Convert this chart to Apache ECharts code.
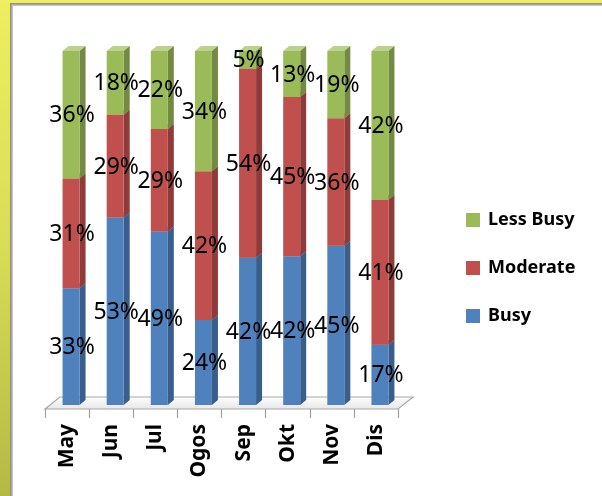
<!DOCTYPE html>
<html>
<head>
<meta charset="utf-8">
<script src="https://cdn.jsdelivr.net/npm/echarts@6/dist/echarts.min.js"></script>
<style>html,body{margin:0;padding:0;background:#fff;}#c{width:602px;height:496px;}</style>
</head>
<body>
<div id="c"></div>
<script>
const categories = ['May', 'Jun', 'Jul', 'Ogos', 'Sep', 'Okt', 'Nov', 'Dis'];
const busy = [33, 53, 49, 24, 42, 42, 45, 17];
const moderate = [31, 29, 29, 42, 54, 45, 36, 41];
const lessBusy = [36, 18, 22, 34, 5, 13, 19, 42];
const seriesNames = ['Busy', 'Moderate', 'Less Busy'];
const legendOrder = ['Less Busy', 'Moderate', 'Busy'];

const frontColors = ['#4F81BD', '#C0504D', '#9BBB59'];
const sideColors = ['#395E8C', '#8E3B39', '#728A41'];
const topColors = ['#7FA3D1', '#D57F7D', '#BBD28C'];

const values = [busy, moderate, lessBusy];
const totals = categories.map((_, i) => busy[i] + moderate[i] + lessBusy[i]);

// 100% stacked: base/top in percent of each category total
function stackedData(k) {
  return categories.map((_, i) => {
    let base = 0;
    for (let j = 0; j < k; j++) base += values[j][i];
    const top = base + values[k][i];
    return [i, base / totals[i] * 100, top / totals[i] * 100, values[k][i]];
  });
}

const FONT = '"Noto Sans", "Open Sans", sans-serif';
const BAR_W = 17, SHIFT_X = 4, SHIFT_Y = -4, DX = 6, DY = -5;

function makeRender(k) {
  return function (params, api) {
    const i = api.value(0), b = api.value(1), t = api.value(2), v = api.value(3);
    const p0 = api.coord([i, b]);
    const p1 = api.coord([i, t]);
    const cx = p0[0] + SHIFT_X;
    const x0 = cx - BAR_W / 2, x1 = cx + BAR_W / 2;
    const yb = p0[1] + SHIFT_Y, yt = p1[1] + SHIFT_Y;
    return {
      type: 'group',
      children: [
        { type: 'polygon', shape: { points: [[x0, yt], [x1, yt], [x1 + DX, yt + DY], [x0 + DX, yt + DY]] },
          style: { fill: topColors[k] } },
        { type: 'polygon', shape: { points: [[x1, yb], [x1 + DX, yb + DY], [x1 + DX, yt + DY], [x1, yt]] },
          style: { fill: sideColors[k] } },
        { type: 'rect', shape: { x: x0, y: yt, width: BAR_W, height: yb - yt },
          style: { fill: frontColors[k] } },
        { type: 'text', z2: 100,
          style: { text: v + '%', x: cx + 1, y: (yt + yb) / 2 + 1, align: 'center', verticalAlign: 'middle',
                   font: '23px ' + FONT, fill: '#000' } }
      ]
    };
  };
}

const barSeries = seriesNames.map((name, k) => ({
  name: name,
  type: 'custom',
  renderItem: makeRender(k),
  itemStyle: { color: frontColors[k] },
  encode: { x: 0, y: [1, 2] },
  data: stackedData(k),
  z: 3
}));

const floorSeries = {
  name: 'floor',
  type: 'custom',
  z: 1,
  silent: true,
  data: [[0, 0]],
  renderItem: function (params, api) {
    const cs = params.coordSys;
    const yb = cs.y + cs.height, xl = cs.x, xr = cs.x + cs.width;
    return {
      type: 'polygon',
      shape: { points: [[xl, yb], [xr, yb], [xr + 15, yb - 12], [xl + 15, yb - 12]] },
      style: {
        fill: new echarts.graphic.LinearGradient(0, 0, 0, 1, [
          { offset: 0, color: '#ffffff' }, { offset: 1, color: '#e6e6e6' }]),
        stroke: '#a8a8a8', lineWidth: 1.2
      }
    };
  }
};

const chart = echarts.init(document.getElementById('c'), null, { renderer: 'canvas' });
chart.setOption({
  animation: false,
  backgroundColor: '#ffffff',
  graphic: {
    elements: [
      { type: 'rect', z: -10, silent: true, shape: { x: 0, y: 0, width: 602, height: 496 },
        style: { fill: new echarts.graphic.LinearGradient(0, 0, 0, 1, [
          { offset: 0, color: '#EEEE5E' }, { offset: 0.5, color: '#D9DC55' }, { offset: 1, color: '#B4B944' }]) } },
      { type: 'rect', z: -9, silent: true, shape: { x: 10, y: 3, width: 600, height: 500 },
        style: { fill: '#8f8f8f' } },
      { type: 'rect', z: -8, silent: true, shape: { x: 11.5, y: 4.5, width: 600, height: 500 },
        style: { fill: '#c4c4c4' } },
      { type: 'rect', z: -7, silent: true, shape: { x: 13, y: 6, width: 600, height: 500 },
        style: { fill: '#ffffff' } }
    ]
  },
  grid: { left: 45, width: 353, top: 55, height: 354, containLabel: false },
  legend: {
    data: legendOrder,
    orient: 'vertical',
    left: 466,
    top: 211,
    padding: 0,
    itemWidth: 14,
    itemHeight: 14,
    itemGap: 34,
    icon: 'rect',
    textStyle: { fontFamily: FONT, fontSize: 18, fontWeight: 'bold', color: '#000', lineHeight: 14, padding: [0, 0, 0, 3] }
  },
  xAxis: {
    type: 'category',
    data: categories,
    boundaryGap: true,
    axisLine: { show: false },
    axisTick: { show: true, length: 9, alignWithLabel: false, lineStyle: { color: '#a0a0a0', width: 1.2 } },
    axisLabel: { rotate: 90, margin: 15, interval: 0, color: '#000', fontFamily: FONT, fontSize: 21, fontWeight: 'bold' },
    splitLine: { show: false }
  },
  yAxis: { type: 'value', min: 0, max: 100, show: false, splitLine: { show: false } },
  series: [floorSeries].concat(barSeries)
});
// fix legend row spacing after layout measurement
chart.setOption({ legend: { itemGap: 30 } });
</script>
</body>
</html>
